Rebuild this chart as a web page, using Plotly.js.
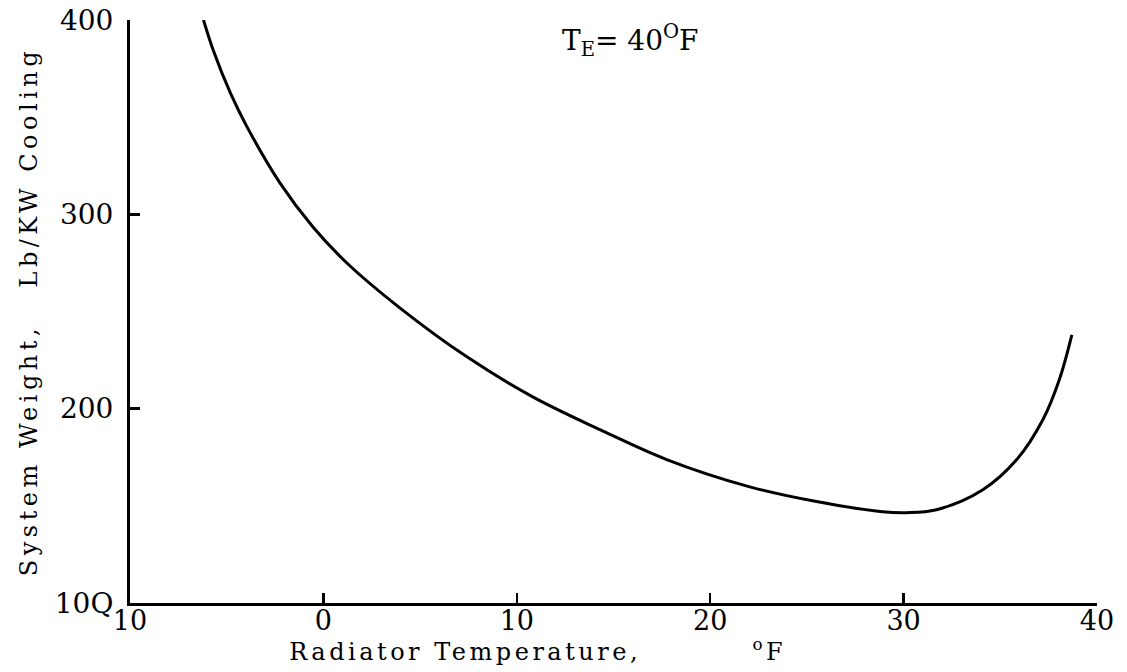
<!DOCTYPE html>
<html>
<head>
<meta charset="utf-8">
<script src="https://cdn.plot.ly/plotly-3.0.1.min.js"></script>
<style>
html,body{margin:0;padding:0;background:#fff;}
#chart{width:1127px;height:672px;}
#chart .ytitle{letter-spacing:4.5px;}
#chart .annotation.xlab text{letter-spacing:3.5px;}
</style>
</head>
<body>
<div id="chart"></div>
<script>
// Radiator temperature (°F) and system weight (Lb/KW cooling)
const radiatorTemp = [-6.2, -5.7, -4.8, -3.95, -2.25, -0.55, 1.2, 3.95, 7.4, 10.8, 14.3, 17.75, 22.0, 25.5, 28.9, 30.15, 31.7, 34.1, 35.85, 37.2, 38.05, 38.7];
const systemWeight = [400, 384.6, 362.2, 345.0, 316.2, 293.6, 275.1, 251.9, 226.8, 206.2, 189.2, 173.8, 159.9, 152.2, 147.0, 146.5, 148.0, 158.3, 173.8, 194.3, 214.9, 238.0];
const xTickVals = [-10, 0, 10, 20, 30, 40];
const xTickText = ["10", "0", "10", "20", "30", "40"];
const yTickVals = [100, 200, 300, 400];
const yTickText = ["10Q", "200", "300", "400"];
const yTitleText = "System Weight,   Lb/KW Cooling";
const xTitleText = "Radiator Temperature,          <sup>o</sup>F";
const noteText = "T<sub>E</sub>= 40<sup>O</sup>F";

const serif = "DejaVu Serif, serif";

Plotly.newPlot("chart", [{
  x: radiatorTemp,
  y: systemWeight,
  type: "scatter",
  mode: "lines",
  line: {color: "#000", width: 3, shape: "spline", smoothing: 1},
  hoverinfo: "skip"
}], {
  width: 1127, height: 672,
  margin: {l: 130, r: 30, t: 20, b: 69},
  paper_bgcolor: "#fff", plot_bgcolor: "#fff",
  showlegend: false,
  font: {family: serif, color: "#000"},
  xaxis: {
    range: [-10, 40], tickvals: xTickVals, ticktext: xTickText,
    showgrid: false, zeroline: false, showline: true, linecolor: "#000", linewidth: 2.5,
    ticks: "inside", ticklen: 10, tickwidth: 2.5, tickcolor: "#000",
    ticklabelstandoff: -8,
    tickfont: {family: serif, size: 27, color: "#000"}
  },
  yaxis: {
    range: [100, 400], tickvals: yTickVals, ticktext: yTickText,
    showgrid: false, zeroline: false, showline: true, linecolor: "#000", linewidth: 3,
    ticks: "inside", ticklen: 10, tickwidth: 2.5, tickcolor: "#000",
    ticklabelstandoff: 8,
    tickfont: {family: serif, size: 28, color: "#000"},
    title: {text: yTitleText, font: {family: serif, size: 24, color: "#000"}, standoff: 11}
  },
  annotations: [{
    xref: "paper", yref: "paper", x: 0.518, y: 0.965, xanchor: "center", yanchor: "middle",
    text: noteText, showarrow: false, font: {family: serif, size: 28, color: "#000"}
  }, {
    xref: "paper", yref: "paper", x: 0.421, y: -0.08, xanchor: "center", yanchor: "middle",
    text: xTitleText, showarrow: false, font: {family: serif, size: 24, color: "#000"},
    name: "xlab"
  }]
}, {displayModeBar: false, staticPlot: true}).then(function () {
  // mark the x-title annotation so the stylesheet can space its letters
  const ann = document.querySelectorAll("#chart .annotation");
  if (ann[1]) ann[1].classList.add("xlab");
});
</script>
</body>
</html>
